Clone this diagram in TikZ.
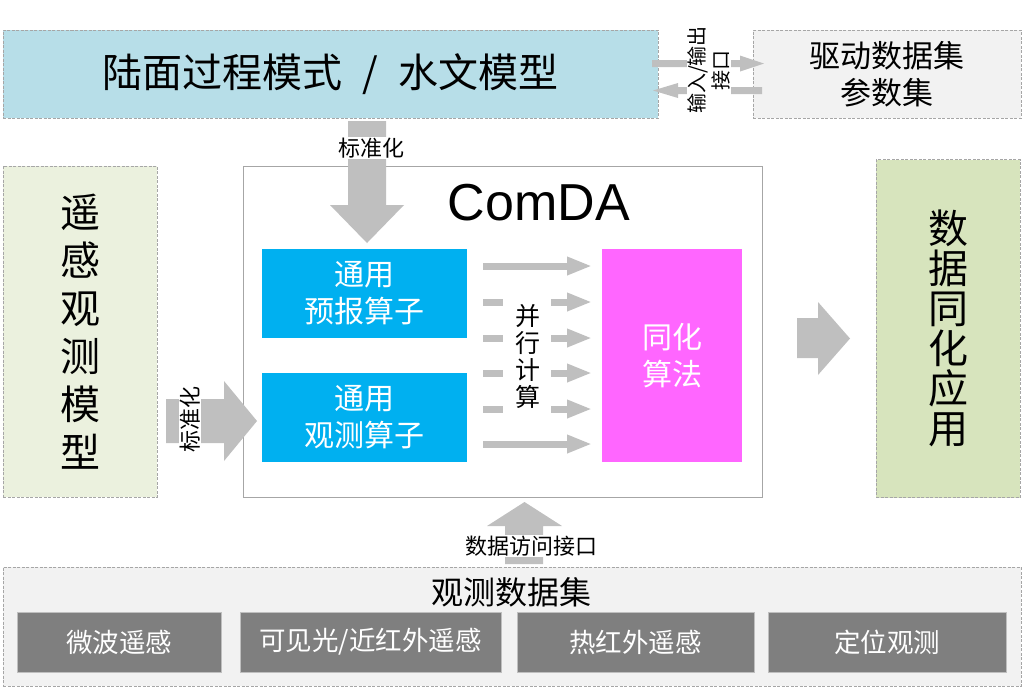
\documentclass[tikz,border=0pt]{standalone}
\usepackage{fontspec}
\setmainfont{Liberation Sans}
\newfontfamily\cjk{Noto Sans CJK SC}
\usetikzlibrary{arrows.meta}
\definecolor{landblue}{HTML}{B7DEE8}
\definecolor{lightgray}{HTML}{F2F2F2}
\definecolor{greenA}{HTML}{EBF1DE}
\definecolor{greenB}{HTML}{D7E4BD}
\definecolor{opblue}{HTML}{00B0F0}
\definecolor{magentabox}{HTML}{FF66FF}
\definecolor{arrowgray}{HTML}{BFBFBF}
\definecolor{darkbox}{HTML}{7F7F7F}
\definecolor{dashgray}{HTML}{A6A6A6}
\begin{document}
\begin{tikzpicture}[x=1pt,y=-1pt,
  box/.style={rectangle, inner sep=0pt, outer sep=0pt, align=center},
  dbox/.style={box, draw=dashgray, dash pattern=on 3pt off 1.5pt, line width=0.8pt},
  fat/.style={fill=arrowgray, draw=none},
  thin/.style={draw=arrowgray, line width=7pt, -{Triangle[length=25pt,width=17pt]}},
  dashbar/.style={draw=arrowgray, line width=7pt},
  lbl/.style={inner sep=1pt, fill=white, align=center},
  opbox/.style={box, fill=opblue, text=white, minimum width=205, minimum height=89,
     font=\cjk\fontsize{30}{37}\selectfont},
  grayop/.style={box, fill=darkbox, draw=arrowgray, line width=0.6pt, text=white,
     minimum height=60, font=\cjk\fontsize{26.5}{30}\selectfont}
]
\useasboundingbox (0,0) rectangle (1024,689);

% top boxes
\node[dbox, fill=landblue, minimum width=655, minimum height=88,
  font=\cjk\fontsize{40}{44}\selectfont] (land) at (330.5,74)
  {陆面过程模式\hspace{20pt}/\hspace{20pt}水文模型};
\node[dbox, fill=lightgray, minimum width=268, minimum height=88,
  font=\cjk\fontsize{31}{37}\selectfont] (drive) at (887,74) {驱动数据集\\参数集};

% side boxes
\node[dbox, fill=greenA, minimum width=154, minimum height=331,
  font=\cjk\fontsize{40}{48}\selectfont] (rs) at (80,331.5) {遥\\感\\观\\测\\模\\型};
\node[dbox, fill=greenB, minimum width=144, minimum height=338,
  font=\cjk\fontsize{40}{40}\selectfont] (app) at (948,328.5) {数\\据\\同\\化\\应\\用};

% main ComDA box
\node[box, draw=dashgray, fill=white, line width=0.8pt, minimum width=519, minimum height=331] (main) at (502.5,331.5) {};
\node[box, font=\fontsize{52}{57}\selectfont] (title) at (539,203) {ComDA};

\node[opbox] (fc) at (364.5,293.5) {通用\\预报算子};
\node[opbox] (ob) at (364.5,417.5) {通用\\观测算子};
\node[box, fill=magentabox, text=white, minimum width=140, minimum height=213,
  font=\cjk\fontsize{30}{37}\selectfont] (da) at (672,355.5) {同化\\算法};

% bottom dataset box
\node[dbox, fill=lightgray, minimum width=1018, minimum height=119] (obs) at (512,626.5) {};
\node[box, font=\cjk\fontsize{32}{34}\selectfont] (obstitle) at (511,592) {观测数据集};
\node[grayop, minimum width=204] (mw) at (119,642) {微波遥感};
\node[grayop, minimum width=261] (vis) at (370.5,642) {可见光/近红外遥感};
\node[grayop, minimum width=237] (tir) at (635.5,642) {热红外遥感};
\node[grayop, minimum width=238] (pos) at (887,642) {定位观测};

% fat arrows
\fill[fat] (348,121) -- (386,121) -- (386,205) -- (404,205) -- (367,243) -- (330,205) -- (348,205) -- cycle;
\node[lbl, font=\cjk\fontsize{22}{24}\selectfont] (std1) at (371,148) {标准化};

\fill[fat] (166,399) -- (224,399) -- (224,381) -- (257,421) -- (224,461) -- (224,443) -- (166,443) -- cycle;
\node[lbl, rotate=90, font=\cjk\fontsize{22}{24}\selectfont] (std2) at (190,419) {标准化};

\fill[fat] (797,318) -- (818,318) -- (818,302) -- (850,338.5) -- (818,375) -- (818,358) -- (797,358) -- cycle;

\fill[fat] (505,564) -- (505,526) -- (487,526) -- (524.5,502) -- (562,526) -- (543,526) -- (543,564) -- cycle;
\node[lbl, font=\cjk\fontsize{22}{24}\selectfont] (dai) at (531,546) {数据访问接口};

% interface arrows
\fill[fat] (652,60) -- (740,60) -- (740,55.5) -- (764,63.5) -- (740,71.5) -- (740,67) -- (652,67) -- cycle;
\fill[fat] (762,87) -- (678,87) -- (678,83) -- (653,90.5) -- (678,98) -- (678,94) -- (762,94) -- cycle;
\node[lbl, rotate=90, font=\cjk\fontsize{20}{24}\selectfont] (io) at (709,70) {输入/输出\\接口};

% parallel arrows
\draw[thin] (483,266) -- (592,266);
\foreach \yy in {302,338,373,409}{
  \draw[dashbar] (483,\yy) -- (503,\yy);
  \draw[thin] (551,\yy) -- (592,\yy);
}
\draw[thin] (483,444) -- (592,444);
\node[box, font=\cjk\fontsize{25}{27}\selectfont] (par) at (528,356) {并\\行\\计\\算};
\end{tikzpicture}
\end{document}
